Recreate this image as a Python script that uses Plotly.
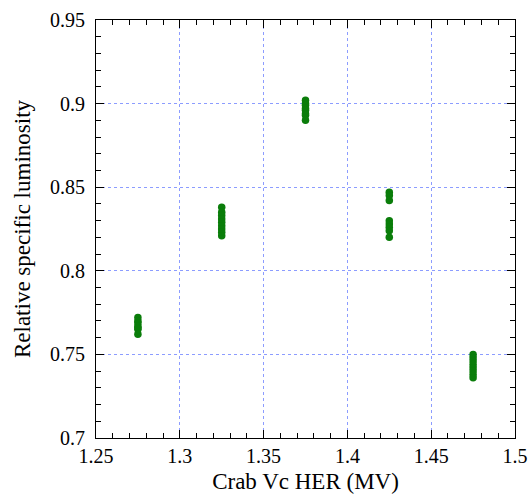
import plotly.graph_objects as go

x_levels = [1.275, 1.325, 1.375, 1.425, 1.475]
lum_1275 = [0.772, 0.770, 0.769, 0.767, 0.766, 0.765, 0.762]
lum_1325 = [0.838, 0.835, 0.833, 0.831, 0.829, 0.827, 0.825, 0.823, 0.821]
lum_1375 = [0.902, 0.900, 0.899, 0.897, 0.896, 0.894, 0.893, 0.890]
lum_1425 = [0.847, 0.845, 0.842, 0.830, 0.828, 0.826, 0.824, 0.820]
lum_1475 = [0.750, 0.748, 0.746, 0.744, 0.742, 0.740, 0.738, 0.736]
groups = [lum_1275, lum_1325, lum_1375, lum_1425, lum_1475]

x_ticks = [1.25, 1.3, 1.35, 1.4, 1.45, 1.5]
x_ticktext = ["1.25", "1.3", "1.35", "1.4", "1.45", "1.5"]
y_ticks = [0.7, 0.75, 0.8, 0.85, 0.9, 0.95]
y_ticktext = ["0.7", "0.75", "0.8", "0.85", "0.9", "0.95"]

# minor tick positions (every 0.01, excluding major positions)
x_minor = [k / 100 for k in range(125, 151) if k % 5 != 0]
y_minor = [k / 100 for k in range(70, 96) if k % 5 != 0]

xs, ys = [], []
for xv, g in zip(x_levels, groups):
    xs += [xv] * len(g)
    ys += g

fig = go.Figure(go.Scatter(
    x=xs, y=ys, mode="markers",
    marker=dict(color="#0a7d0a", size=7.5, line=dict(width=0)),
    showlegend=False,
))

font = "Liberation Serif, Times New Roman, serif"
axis_common = dict(
    showline=True, linecolor="black", linewidth=1, mirror="ticks",
    ticks="inside", ticklen=8, tickcolor="black", tickwidth=1,
    showgrid=True, gridcolor="#8c9cff", griddash="dot", gridwidth=1,
    zeroline=False, automargin=False,
    tickfont=dict(family=font, size=20, color="black"),
)

fig.update_xaxes(
    range=[1.25, 1.5], tickvals=x_ticks, ticktext=x_ticktext,
    minor=dict(tickvals=x_minor, ticks="inside", ticklen=5, tickcolor="black", showgrid=False),
    title=dict(text="Crab Vc HER (MV)", font=dict(family=font, size=23, color="black"), standoff=6),
    **axis_common,
)
fig.update_yaxes(
    range=[0.7, 0.95], tickvals=y_ticks, ticktext=y_ticktext, ticklabelstandoff=6,
    minor=dict(tickvals=y_minor, ticks="inside", ticklen=5, tickcolor="black", showgrid=False),
    title=dict(text="Relative specific luminosity", font=dict(family=font, size=23, color="black"), standoff=12),
    **axis_common,
)

fig.update_layout(
    width=529, height=494,
    margin=dict(l=96, r=14, t=20, b=56),
    plot_bgcolor="white", paper_bgcolor="white",
)

fig.write_html("out.html")
